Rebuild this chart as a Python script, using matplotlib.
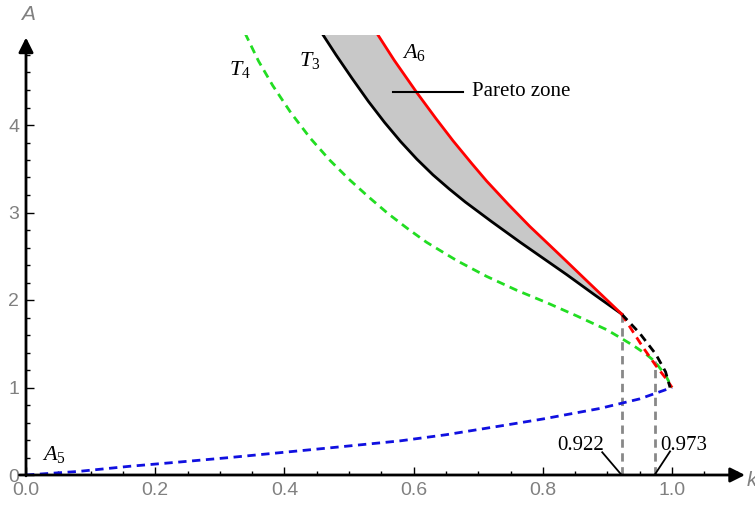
import numpy as np
import matplotlib
matplotlib.use("Agg")
import matplotlib.pyplot as plt

plt.rcParams['mathtext.fontset'] = 'custom'
plt.rcParams['mathtext.rm'] = 'Liberation Serif'
plt.rcParams['mathtext.it'] = 'Liberation Serif:italic'

# ---- data (k, A) ----
t3_k = [0.458, 0.48, 0.505, 0.53, 0.555, 0.58, 0.605, 0.63, 0.655, 0.68, 0.72, 0.765, 0.80, 0.837, 0.88, 0.922]
t3_A = [5.05, 4.80, 4.53, 4.27, 4.03, 3.81, 3.61, 3.43, 3.27, 3.12, 2.90, 2.66, 2.48, 2.29, 2.06, 1.84]
t3d_k = [0.922, 0.95, 0.975, 0.99, 0.997]
t3d_A = [1.84, 1.62, 1.38, 1.18, 1.0]

a6_k = [0.543, 0.57, 0.605, 0.635, 0.661, 0.69, 0.713, 0.747, 0.78, 0.81, 0.837, 0.868, 0.895, 0.922]
a6_A = [5.05, 4.74, 4.37, 4.07, 3.82, 3.56, 3.36, 3.09, 2.84, 2.63, 2.44, 2.22, 2.03, 1.84]
a6d_k = [0.922, 0.955, 0.975, 0.992, 1.0]
a6d_A = [1.84, 1.46, 1.25, 1.09, 1.0]

t4_k = [0.339, 0.36, 0.382, 0.41, 0.44, 0.47, 0.50, 0.53, 0.56, 0.59, 0.62, 0.667,
        0.713, 0.76, 0.806, 0.852, 0.899, 0.922, 0.94, 0.96, 0.973, 0.99, 1.0]
t4_A = [5.05, 4.73, 4.45, 4.14, 3.85, 3.60, 3.38, 3.18, 2.99, 2.82, 2.66, 2.45,
        2.27, 2.11, 1.97, 1.82, 1.66, 1.56, 1.48, 1.38, 1.30, 1.14, 1.0]

a5_k = [0.0, 0.08, 0.161, 0.24, 0.316, 0.40, 0.47, 0.579, 0.65, 0.734, 0.80, 0.888, 0.95, 1.0]
a5_A = [0.0, 0.04, 0.10, 0.15, 0.20, 0.26, 0.31, 0.39, 0.46, 0.56, 0.64, 0.76, 0.87, 1.0]

k_marks = [0.922, 0.973]
k_marks_top = [1.84, 1.30]
#----------------------------------------------

fig = plt.figure(figsize=(7.55, 5.08), dpi=100)
ax = fig.add_axes([26/755, 33/508, 1.12*646/755, 5.03*87.5/508])
ax.set_xlim(0, 1.12)
ax.set_ylim(0, 5.03)
for s in ax.spines.values():
    s.set_visible(False)

dash = (0, (3, 2))

# pareto zone
ax.fill(t3_k + a6_k[::-1], t3_A + a6_A[::-1], color='#c8c8c8', lw=0, zorder=1)

ax.plot(a5_k, a5_A, color='#1010e0', lw=2, ls=dash, zorder=3)
ax.plot(t4_k, t4_A, color='#22dd22', lw=2, ls=dash, zorder=3)
for km, top in zip(k_marks, k_marks_top):
    ax.plot([km, km], [0, top], color='#888888', lw=2, ls=dash, zorder=2)
ax.plot(a6d_k, a6d_A, color='red', lw=2, ls=dash, zorder=4)
ax.plot(t3d_k, t3d_A, color='black', lw=2, ls=dash, zorder=4)
ax.plot(t3_k, t3_A, color='black', lw=2, zorder=5)
ax.plot(a6_k, a6_A, color='red', lw=2, zorder=5)

# axes with arrows
arr = dict(arrowstyle='-|>', lw=2, color='black', mutation_scale=22, shrinkA=0, shrinkB=0)
ax.annotate('', xy=(1.113, 0), xytext=(-0.01, 0), arrowprops=arr, annotation_clip=False, zorder=6)
ax.annotate('', xy=(0, 5.0), xytext=(0, -0.01), arrowprops=arr, annotation_clip=False, zorder=6)

ax.set_xticks(np.arange(0, 1.01, 0.2))
ax.set_xticklabels(['0.0', '0.2', '0.4', '0.6', '0.8', '1.0'])
ax.set_xticks(np.arange(0, 1.101, 0.05), minor=True)
ax.set_yticks([0, 1, 2, 3, 4])
ax.set_yticks(np.arange(0, 4.81, 0.2), minor=True)
ax.tick_params(which='both', direction='in', color='black', labelcolor='#808080',
               labelsize=14, pad=5)
ax.tick_params(which='major', length=6, width=1)
ax.tick_params(which='minor', length=3, width=1)
for lab in ax.get_xticklabels() + ax.get_yticklabels():
    lab.set_family('Liberation Sans')

fig.text(28/755, 1 - 14/508, 'A', color='#808080', fontsize=15, style='italic',
         family='Liberation Sans', ha='center', va='center')
fig.text(747/755, 1 - 480/508, 'k', color='#808080', fontsize=15, style='italic',
         family='Liberation Sans', ha='left', va='center')

# labels
ax.text(0.331, 4.63, '$T_4$', fontsize=16, ha='center', va='center')
ax.text(0.44, 4.74, '$T_3$', fontsize=16, ha='center', va='center')
ax.text(0.601, 4.83, '$A_6$', fontsize=16, ha='center', va='center')
ax.text(0.044, 0.23, '$A_5$', fontsize=16, ha='center', va='center')

ax.plot([0.568, 0.676], [4.38, 4.38], color='black', lw=1.5, zorder=6)
ax.text(0.690, 4.38, 'Pareto zone', family='Liberation Serif', fontsize=15,
        ha='left', va='center')

ax.plot([0.892, 0.922], [0.26, 0.0], color='black', lw=1.3, zorder=6)
ax.text(0.858, 0.34, '0.922', family='Liberation Serif', fontsize=15, ha='center', va='center')
ax.plot([0.973, 0.997], [0.0, 0.27], color='black', lw=1.3, zorder=6)
ax.text(1.018, 0.34, '0.973', family='Liberation Serif', fontsize=15, ha='center', va='center')

plt.savefig('out.png', dpi=100)
